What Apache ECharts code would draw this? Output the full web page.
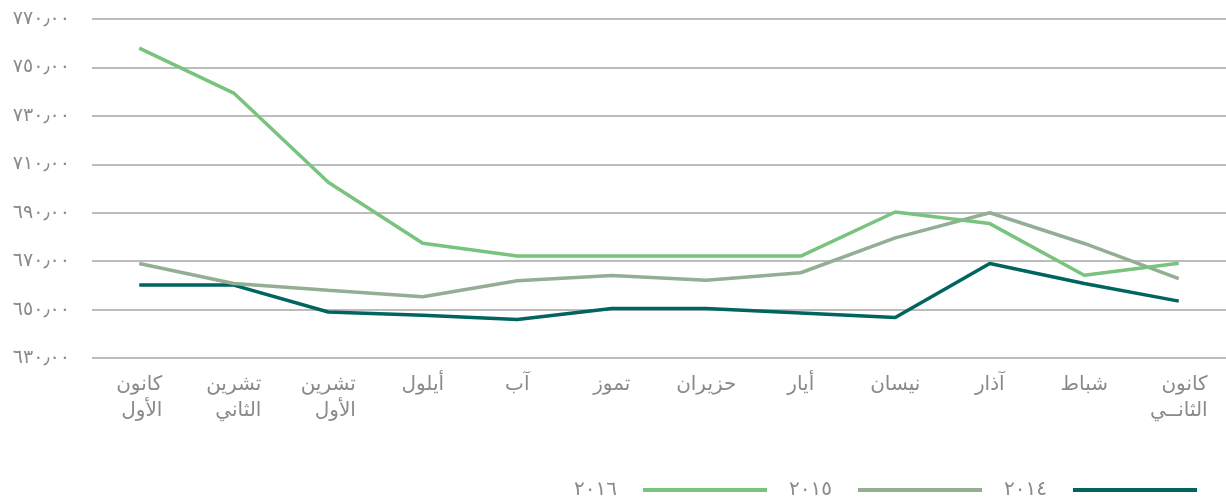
<!DOCTYPE html>
<html><head><meta charset="utf-8">
<script src="https://cdn.jsdelivr.net/npm/echarts@6/dist/echarts.min.js"></script>
<style>html,body{margin:0;padding:0;background:#fff}#c{width:1226px;height:503px}</style>
</head><body><div id="c"></div>
<script>
const categories = ['كانون\nالأول','تشرين\nالثاني','تشرين\nالأول','أيلول','آب','تموز','حزيران','أيار','نيسان','آذار','شباط','كانون\nالثانــي'];
const yTickValues = [630,650,670,690,710,730,750,770];
const yTickLabels = ['٦٣٠٫٠٠','٦٥٠٫٠٠','٦٧٠٫٠٠','٦٩٠٫٠٠','٧١٠٫٠٠','٧٣٠٫٠٠','٧٥٠٫٠٠','٧٧٠٫٠٠'];
const seriesNames = ['٢٠١٦','٢٠١٥','٢٠١٤'];
const values2016 = [758, 739.4, 702.6, 677.4, 672.1, 672.1, 672.1, 672.1, 690.3, 685.5, 664.2, 669.1];
const values2015 = [669, 660.8, 658, 655.3, 661.9, 664.1, 662.1, 665.2, 679.6, 690, 677.3, 662.8];
const values2014 = [660.1, 660.1, 649, 647.7, 645.9, 650.4, 650.4, 648.6, 646.7, 669, 660.8, 653.5];
const colors = ['#78C47E','#93AE93','#00645F'];

const font = "'DejaVu Sans', 'Noto Sans', sans-serif";
const chart = echarts.init(document.getElementById('c'));
chart.setOption({
  animation:false,
  grid:{left:92,right:0,top:19,bottom:145},
  legend:{
    data:seriesNames, right:24, top:475, align:'right',
    icon:'rect', itemWidth:124, itemHeight:4, itemGap:22,
    textStyle:{fontFamily:font,fontSize:20,color:'#8a8a8a',padding:[0,21,0,0]}
  },
  xAxis:{
    type:'category', data:categories, boundaryGap:true,
    axisLine:{show:false}, axisTick:{show:false},
    axisLabel:{interval:0,margin:14,fontFamily:font,fontSize:20,color:'#8a8a8a',lineHeight:26,
      formatter:function(v){return v.split('\n').map(s=>'{a|'+s+'}').join('\n');},
      rich:{a:{fontFamily:font,fontSize:20,color:'#8a8a8a',lineHeight:26,align:'right'}}}
  },
  yAxis:{
    type:'value', min:630, max:770, interval:20,
    axisLine:{show:false}, axisTick:{show:false},
    axisLabel:{margin:22,fontFamily:font,fontSize:19,color:'#8a8a8a',
      formatter:function(v){const i=yTickValues.indexOf(v);return i>=0?yTickLabels[i]:'';}},
    splitLine:{lineStyle:{color:'#a6a6a6',width:1.5}}
  },
  series:[
    {name:seriesNames[2],type:'line',data:values2014,color:colors[2],symbol:'none',lineStyle:{width:3.5,color:colors[2]}},
    {name:seriesNames[1],type:'line',data:values2015,color:colors[1],symbol:'none',lineStyle:{width:3.5,color:colors[1]}},
    {name:seriesNames[0],type:'line',data:values2016,color:colors[0],symbol:'none',lineStyle:{width:3.5,color:colors[0]}}
  ]
});
</script></body></html>
